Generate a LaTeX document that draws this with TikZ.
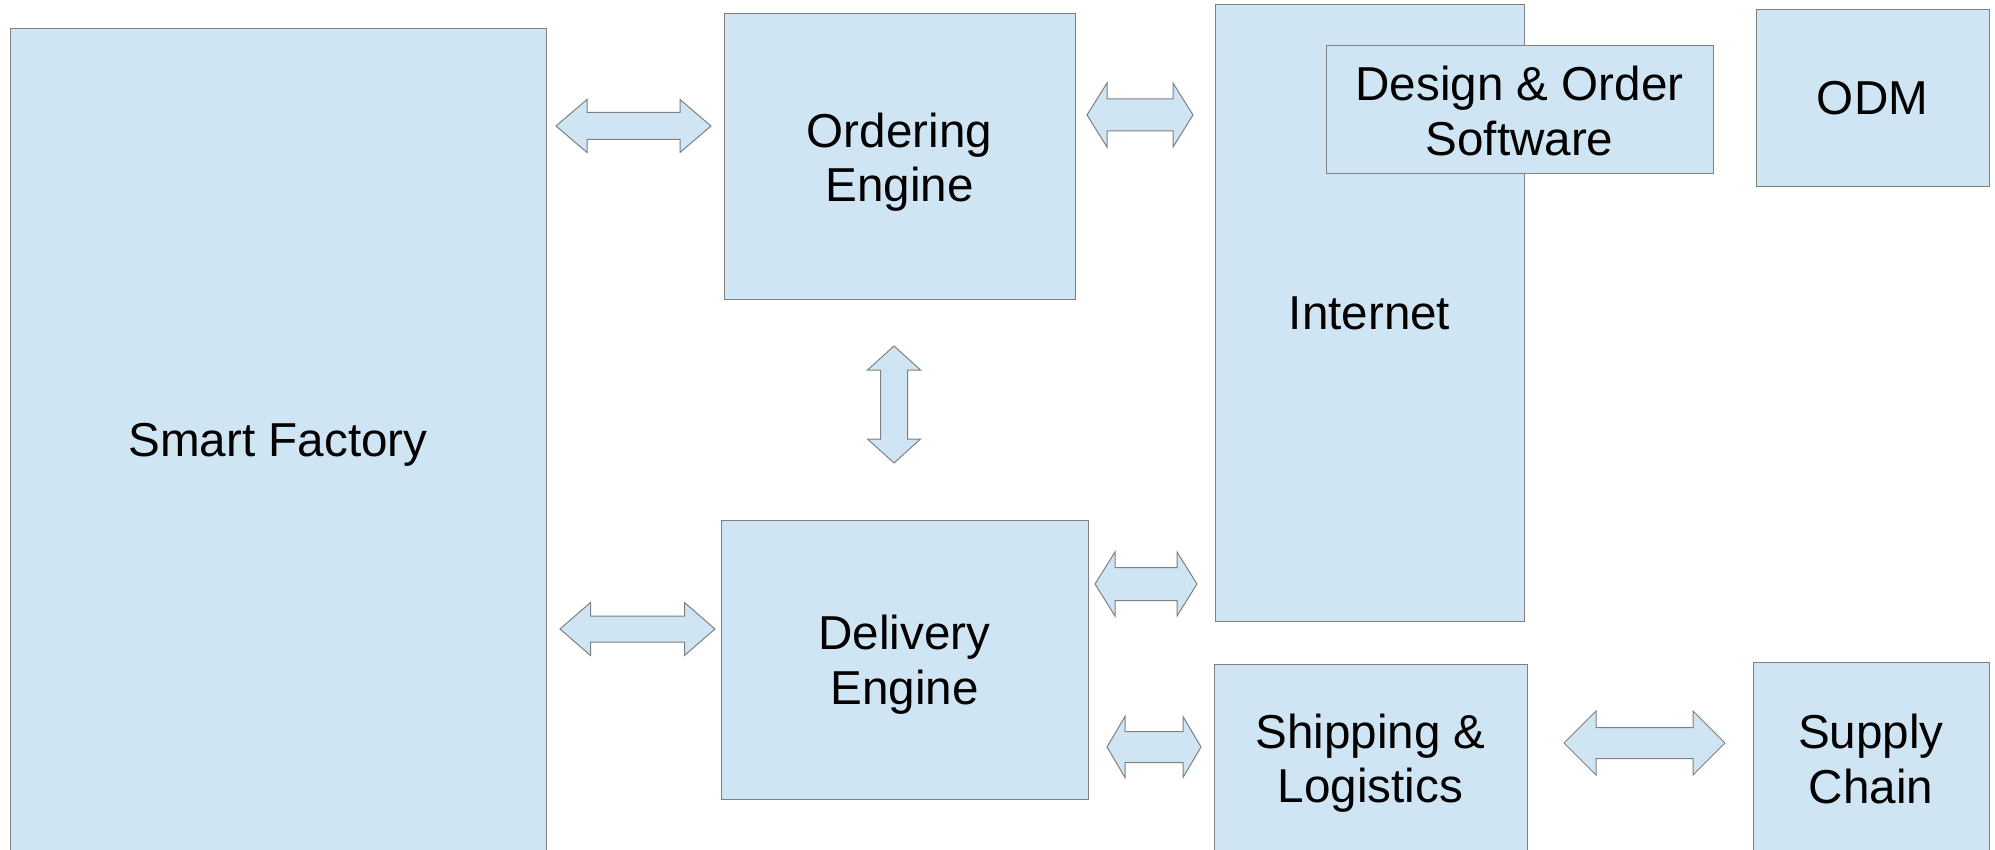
\documentclass[tikz,border=0pt]{standalone}
\usepackage{fontspec}
\setmainfont{Liberation Sans}
\definecolor{boxfill}{RGB}{207,229,243}
\definecolor{boxline}{RGB}{128,128,128}
\newcommand{\hdarrow}[6]{%
 \draw[arr] (#1,#3) -- ({#1+#6},{#3-#4}) -- ({#1+#6},{#3-#5}) -- ({#2-#6},{#3-#5}) -- ({#2-#6},{#3-#4}) -- (#2,#3) -- ({#2-#6},{#3+#4}) -- ({#2-#6},{#3+#5}) -- ({#1+#6},{#3+#5}) -- ({#1+#6},{#3+#4}) -- cycle;}
\newcommand{\vdarrow}[6]{%
 \draw[arr] (#3,#1) -- ({#3-#4},{#1+#6}) -- ({#3-#5},{#1+#6}) -- ({#3-#5},{#2-#6}) -- ({#3-#4},{#2-#6}) -- (#3,#2) -- ({#3+#4},{#2-#6}) -- ({#3+#5},{#2-#6}) -- ({#3+#5},{#1+#6}) -- ({#3+#4},{#1+#6}) -- cycle;}
\begin{document}
\begin{tikzpicture}[x=1pt,y=-1pt,
  box/.style={draw=boxline,fill=boxfill,line width=1pt,inner sep=0pt},
  txt/.style={align=center,inner sep=0pt,
    font=\fontsize{47.6}{54.5}\selectfont},
  arr/.style={draw=boxline,fill=boxfill,line width=1pt,line join=miter}]
\useasboundingbox (0,0) rectangle (1995,850);
\fill[white] (0,0) rectangle (1995,850);
\node[box,minimum width=536,minimum height=823] (sf) at (278,440.5) {};
\node[box,minimum width=351,minimum height=286] (oe) at (899.5,157) {};
\node[box,minimum width=367,minimum height=279] (de) at (904.5,659.5) {};
\node[box,minimum width=309,minimum height=616] (inet) at (1369.5,313) {};
\node[box,minimum width=387,minimum height=128] (dos) at (1519.5,110) {};
\node[box,minimum width=233,minimum height=177] (odm) at (1872.5,98.5) {};
\node[box,minimum width=313,minimum height=188] (ship) at (1370.5,758) {};
\node[box,minimum width=236,minimum height=190] (sup) at (1871,757) {};
\node[txt,yshift=-4pt] (sft) at (sf.center) {Smart Factory};
\node[txt,yshift=-5pt] (oet) at (oe.center) {Ordering\\Engine};
\node[txt,yshift=-5pt] (det) at (de.center) {Delivery\\Engine};
\node[txt] (inett) at (inet.center) {Internet};
\node[txt,yshift=-1pt] (dost) at (dos.center) {Design \& Order\\Software};
\node[txt] (odmt) at (odm.center) {ODM};
\node[txt,yshift=-5pt] (shipt) at (ship.center) {Shipping \&\\Logistics};
\node[txt,yshift=-2pt] (supt) at (sup.center) {Supply\\Chain};
% block arrows
\hdarrow{556}{711}{126}{26.5}{13.5}{31}
\hdarrow{1087}{1193}{115}{32}{16}{20}
\vdarrow{346}{463}{894}{26.5}{13.5}{24}
\hdarrow{560}{715}{629}{26.5}{13}{30.5}
\hdarrow{1095}{1197}{584}{32}{16.5}{20}
\hdarrow{1107}{1201}{747}{30.5}{15.5}{18}
\hdarrow{1564}{1725}{743}{32}{15.5}{32}
\end{tikzpicture}
\end{document}
